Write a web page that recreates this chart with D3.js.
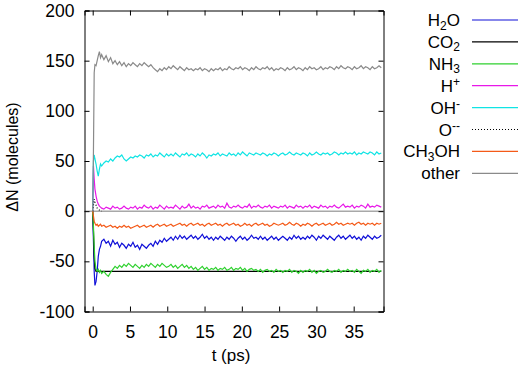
<!DOCTYPE html>
<html>
<head>
<meta charset="utf-8">
<script src="https://cdn.jsdelivr.net/npm/d3@7"></script>
<style>
  body { margin: 0; background: #fff; }
  #chart { width: 520px; height: 372px; }
  text { font-family: "Liberation Sans", Arial, sans-serif; }
</style>
</head>
<body>
<div id="chart"></div>
<script>
// time axis (ps): dense first 1.2 ps, then every 0.3 ps
const earlyTime = [0, 0.1, 0.2, 0.3, 0.45, 0.6, 0.75, 0.9, 1.05, 1.2];
const time = earlyTime.concat(d3.range(0, 125).map(i => +(1.5 + 0.3 * i).toFixed(2)));

const xTicks = [0, 5, 10, 15, 20, 25, 30, 35];
const yTicks = [-100, -50, 0, 50, 100, 150, 200];

const otherVals = [
  0, 60, 138, 146, 145, 150, 155, 159, 153, 156,
  151, 155, 149, 153, 147, 150, 146, 149, 145, 148,
  144, 147, 145, 148, 146, 144, 147, 145, 148, 146,
  144, 146, 143, 141, 139, 142, 140, 143, 141, 144,
  142, 145, 143, 141, 144, 142, 140, 143, 141, 142,
  140, 142, 141, 143, 140, 142, 141, 139, 142, 140,
  142, 141, 143, 140, 142, 141, 144, 142, 141, 143,
  142, 144, 141, 143, 142, 140, 143, 141, 144, 142,
  141, 143, 142, 144, 141, 143, 140, 142, 141, 143,
  142, 140, 143, 141, 142, 144, 141, 143, 142, 140,
  143, 141, 144, 142, 143, 141, 142, 144, 141, 143,
  142, 144, 143, 141, 144, 142, 145, 143, 142, 144,
  143, 141, 144, 142, 143, 145, 142, 144, 143, 141,
  144, 142, 143, 145, 143
];

const ohVals = [
  0, 50, 56, 52, 47, 40, 35, 42, 47, 45,
  48, 50, 49, 52, 50, 53, 55, 54, 56, 52,
  50, 52, 54, 53, 55, 54, 56, 55, 53, 56,
  55, 57, 54, 56, 55, 58, 56, 54, 57, 55,
  57, 55, 58, 56, 54, 57, 56, 58, 55, 57,
  56, 54, 57, 55, 58, 56, 53, 56, 55, 57,
  56, 58, 55, 57, 56, 55, 58, 56, 57, 55,
  58, 56, 59, 57, 55, 58, 57, 56, 58, 57,
  56, 58, 57, 55, 57, 56, 58, 57, 55, 57,
  58, 56, 57, 59, 57, 56, 58, 57, 56, 58,
  57, 55, 58, 56, 57, 59, 57, 56, 58, 57,
  58, 56, 57, 59, 58, 56, 58, 57, 59, 57,
  58, 57, 59, 56, 58, 57, 59, 58, 57, 59,
  58, 56, 59, 57, 58
];

const hVals = [
  0, 45, 32, 22, 15, 10, 7, 5, 4, 3,
  2, 4, 3, 2, 5, 3, 4, 2, 3, 5,
  3, 2, 4, 3, 5, 2, 4, 3, 6, 4,
  3, 5, 2, 4, 3, 6, 4, 2, 5, 3,
  4, 3, 6, 4, 2, 5, 3, 4, 7, 3,
  5, 3, 4, 2, 5, 4, 6, 3, 4, 5,
  3, 6, 4, 5, 3, 8, 4, 3, 5, 4,
  6, 4, 3, 5, 4, 7, 3, 5, 4, 6,
  4, 3, 5, 4, 6, 3, 5, 4, 3, 5,
  4, 6, 3, 5, 4, 3, 6, 4, 5, 3,
  5, 4, 6, 3, 5, 4, 3, 6, 4, 5,
  3, 5, 4, 6, 4, 3, 5, 7, 4, 5,
  4, 6, 3, 5, 4, 6, 5, 3, 7, 4,
  5, 4, 6, 5, 4
];

const ch3ohVals = [
  0, -5, -10, -12, -14, -13, -15, -14, -13, -15,
  -14, -16, -15, -14, -16, -15, -17, -15, -16, -14,
  -16, -15, -17, -16, -15, -14, -16, -15, -14, -16,
  -15, -14, -16, -14, -13, -15, -14, -13, -15, -14,
  -13, -15, -14, -13, -12, -14, -13, -15, -13, -12,
  -14, -13, -12, -14, -13, -15, -13, -12, -14, -13,
  -12, -14, -13, -15, -13, -12, -14, -13, -12, -14,
  -13, -15, -14, -12, -14, -13, -15, -13, -12, -14,
  -13, -12, -14, -13, -15, -14, -12, -13, -14, -13,
  -12, -14, -13, -11, -13, -14, -12, -13, -15, -13,
  -14, -12, -13, -15, -13, -12, -14, -13, -12, -14,
  -13, -12, -14, -13, -11, -13, -12, -14, -13, -12,
  -13, -12, -14, -12, -11, -13, -12, -14, -12, -13,
  -12, -14, -12, -13, -12
];

const h2oVals = [
  0, -30, -60, -74, -70, -60, -45, -38, -35, -30,
  -28, -32, -30, -35, -29, -33, -31, -36, -32, -34,
  -37, -33, -35, -31, -36, -34, -38, -33, -35, -37,
  -34, -32, -35, -30, -33, -29, -31, -27, -30, -28,
  -26, -29, -25, -28, -24, -27, -25, -28, -26, -24,
  -27, -25, -28, -26, -23, -27, -25, -28, -26, -29,
  -26, -28, -25, -27, -29, -26, -28, -25, -27, -30,
  -27, -25, -28, -26, -29, -27, -24, -27, -26, -28,
  -25, -28, -26, -29, -27, -25, -28, -26, -29, -27,
  -25, -27, -29, -26, -28, -24, -27, -25, -28, -26,
  -28, -25, -27, -24, -26, -29, -25, -27, -24, -26,
  -28, -25, -27, -29, -26, -24, -27, -25, -28, -26,
  -24, -27, -25, -28, -26, -29, -25, -27, -24, -26,
  -28, -25, -27, -26, -24
];

const nh3Vals = [
  0, -15, -35, -50, -58, -60, -58, -61, -59, -62,
  -60, -63, -65, -61, -58, -55, -57, -54, -56, -53,
  -55, -52, -54, -56, -53, -55, -57, -54, -56, -53,
  -55, -52, -54, -56, -53, -55, -52, -54, -56, -55,
  -53, -56, -54, -57, -55, -53, -56, -54, -57, -55,
  -58, -56, -59, -57, -55, -58, -56, -59, -57, -58,
  -56, -59, -57, -58, -56, -59, -58, -56, -59, -57,
  -58, -56, -59, -57, -60, -58, -57, -59, -58, -60,
  -58, -61, -59, -58, -60, -59, -61, -58, -60, -59,
  -61, -59, -60, -58, -61, -59, -60, -62, -59, -61,
  -59, -60, -58, -61, -59, -62, -60, -59, -61, -60,
  -58, -60, -61, -59, -60, -58, -61, -59, -60, -58,
  -60, -59, -61, -58, -60, -62, -59, -60, -58, -61,
  -59, -60, -58, -61, -59
];

// sparse series (flat after the first picosecond)
const co2Time = [0, 0.1, 0.2, 0.3, 0.45, 0.6, 38.7];
const co2Vals = [0, -20, -45, -57, -60, -60, -60];
const oTime = [0, 0.1, 0.2, 0.3, 0.45, 0.6, 0.75, 0.9, 1.05, 1.2];
const oVals = [0, 6, 12, 9, 6, 3, 2, 1, 0, 0];

const series = [
  {pre: 'H', sub: '2', post: 'O', sup: '', t: time, v: h2oVals, colour: '#1010d8', dash: null},
  {pre: 'CO', sub: '2', post: '', sup: '', t: co2Time, v: co2Vals, colour: '#000000', dash: null},
  {pre: 'NH', sub: '3', post: '', sup: '', t: time, v: nh3Vals, colour: '#2ed02e', dash: null},
  {pre: 'H', sub: '', post: '', sup: '+', t: time, v: hVals, colour: '#e818e8', dash: null},
  {pre: 'OH', sub: '', post: '', sup: '-', t: time, v: ohVals, colour: '#10e4e4', dash: null},
  {pre: 'O', sub: '', post: '', sup: '--', t: oTime, v: oVals, colour: '#000000', dash: '1,2'},
  {pre: 'CH', sub: '3', post: 'OH', sup: '', t: time, v: ch3ohVals, colour: '#f45a18', dash: null},
  {pre: 'other', sub: '', post: '', sup: '', t: time, v: otherVals, colour: '#8a8a8a', dash: null}
];

const canvas = document.querySelector('#chart');
var margin = {top: 10.5, left: 84.5},
    width = 299,
    height = 301;

var x = d3.scaleLinear().domain([-1.1, 39]).range([0, width]);
var y = d3.scaleLinear().domain([-100, 200]).range([height, 0]);

var svg = d3.select(canvas).append('svg')
    .attr('width', 520)
    .attr('height', 372);

var g = svg.append('g')
    .attr('transform', 'translate(' + margin.left + ',' + margin.top + ')');

// zero axis
g.append('line')
  .attr('x1', 0).attr('x2', width)
  .attr('y1', y(0)).attr('y2', y(0))
  .attr('stroke', '#a8a8a8')
  .attr('stroke-width', 1.5);

var line = d3.line()
  .x(d => x(d[0]))
  .y(d => y(d[1]));

series.forEach(s => {
  g.append('path')
    .datum(s.t.map((t, i) => [t, s.v[i]]))
    .attr('d', line)
    .attr('fill', 'none')
    .attr('stroke', s.colour)
    .attr('stroke-width', 1.2)
    .attr('stroke-dasharray', s.dash);
});

// axes, ticks inward and mirrored
const fmt = d => String(d);
const xAxisGroup = g.append('g').attr('transform', 'translate(0,' + height + ')');
xAxisGroup.call(d3.axisBottom(x).tickValues(xTicks).tickSize(-5).tickPadding(14).tickFormat(fmt));
const xTopGroup = g.append('g');
xTopGroup.call(d3.axisTop(x).tickValues(xTicks).tickSize(-5).tickFormat(''));

const yAxisGroup = g.append('g');
yAxisGroup.call(d3.axisLeft(y).tickValues(yTicks).tickSize(-5).tickPadding(10).tickFormat(fmt));
const yRightGroup = g.append('g').attr('transform', 'translate(' + width + ',0)');
yRightGroup.call(d3.axisRight(y).tickValues(yTicks).tickSize(-5).tickFormat(''));

g.selectAll('.domain').attr('stroke', '#000').attr('stroke-width', 1);
g.selectAll('.tick line').attr('stroke', '#000');
g.selectAll('.tick text')
  .attr('font-family', '"Liberation Sans", Arial, sans-serif')
  .attr('font-size', '17.5px')
  .attr('fill', '#000');

// axis titles
svg.append('text')
  .attr('x', 231).attr('y', 361)
  .attr('text-anchor', 'middle')
  .attr('font-size', '17px')
  .text('t (ps)');

svg.append('text')
  .attr('transform', 'translate(18,157) rotate(-90)')
  .attr('text-anchor', 'middle')
  .attr('font-size', '16px')
  .text('\u0394N (molecules)');

// legend
var legend = svg.append('g');
series.forEach((s, i) => {
  var ly = 20 + i * 21.9;
  var txt = legend.append('text')
    .attr('x', 460).attr('y', ly + 6)
    .attr('text-anchor', 'end')
    .attr('font-size', '17px');
  txt.append('tspan').text(s.pre);
  if (s.sub) {
    txt.append('tspan').attr('font-size', '12px').attr('dy', 3.5).text(s.sub);
    if (s.post) txt.append('tspan').attr('dy', -3.5).text(s.post);
  } else if (s.post) {
    txt.append('tspan').text(s.post);
  }
  if (s.sup) {
    txt.append('tspan').attr('font-size', '12px').attr('dy', -5.5).text(s.sup);
  }
  legend.append('line')
    .attr('x1', 472).attr('x2', 518)
    .attr('y1', ly).attr('y2', ly)
    .attr('stroke', s.colour)
    .attr('stroke-width', 1.2)
    .attr('stroke-dasharray', s.dash);
});
</script>
</body>
</html>
